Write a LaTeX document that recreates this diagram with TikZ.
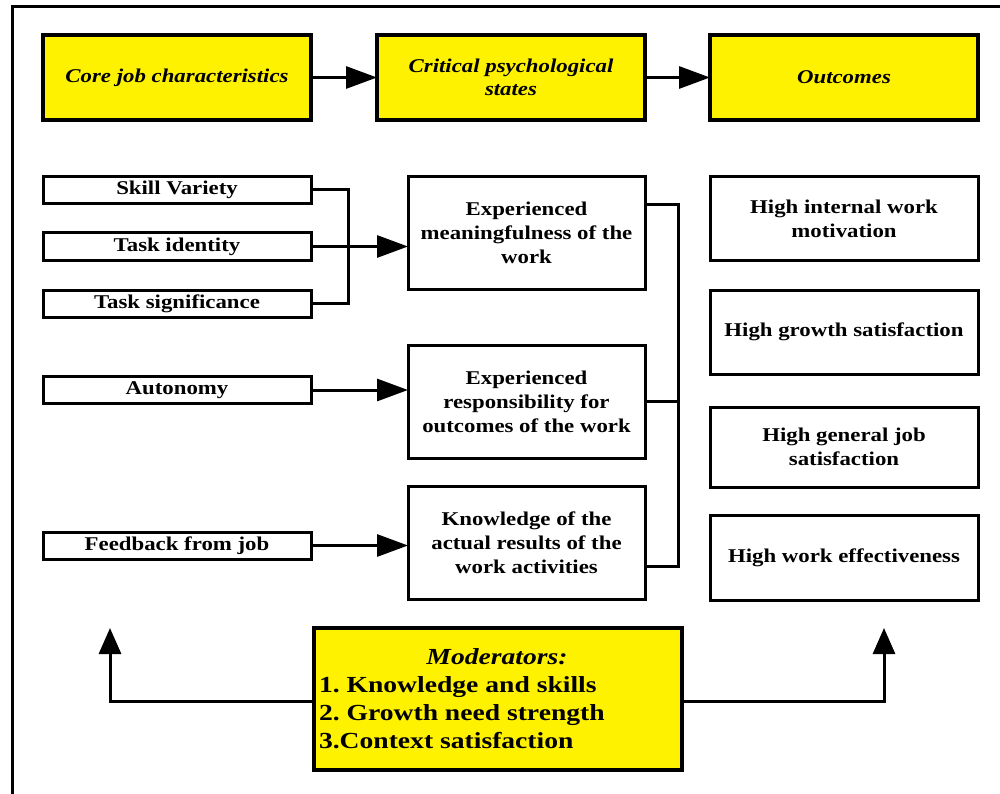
\documentclass[tikz,border=0pt]{standalone}
\usepackage{fontspec}
\setmainfont{Liberation Serif}[FakeStretch=1.17]
\newfontfamily\modfont{Liberation Serif}[FakeStretch=1.2]
\usetikzlibrary{arrows.meta}
\frenchspacing
\begin{document}
\begin{tikzpicture}[x=1pt,y=-1pt,
  every node/.style={inner sep=0pt,outer sep=0pt},
  frame/.style={line width=3pt,line cap=rect},
  headbox/.style={draw,line width=3.5pt,fill=yellow,minimum width=268pt,minimum height=85pt,
    font=\fontsize{19.5}{23}\selectfont\bfseries\itshape,align=center},
  smallbox/.style={draw,line width=3pt,minimum width=268pt,minimum height=27pt,
    font=\fontsize{19.5}{22}\selectfont\bfseries},
  midbox/.style={draw,line width=3pt,minimum width=237pt,minimum height=113pt,
    font=\fontsize{19.5}{24}\selectfont\bfseries,align=center},
  outbox/.style={draw,line width=3pt,minimum width=268pt,
    font=\fontsize{19.5}{24}\selectfont\bfseries,align=center},
  link/.style={line width=3pt},
  arr/.style={line width=3pt,-{Triangle[length=31pt,width=22pt]}},
  uparr/.style={line width=3pt,-{Triangle[length=26pt,width=22pt]}}]
\useasboundingbox (0,0) rectangle (1000,794);
% frame (open to the right and bottom)
\draw[frame] (12,800) -- (12,7) -- (1010,7);

% header row
\node[headbox] (core) at (177,77.5) {Core job characteristics};
\node[headbox] (crit) at (511,77.5) {Critical psychological\\states};
\node[headbox] (outc) at (844,77.5) {Outcomes};
\draw[arr] (core.east) -- (crit.west);
\draw[arr] (crit.east) -- (outc.west);

% core job characteristics
\node[smallbox] (sv) at (177,190) {Skill Variety};
\node[smallbox] (ti) at (177,246.5) {Task identity};
\node[smallbox] (ts) at (177,303.5) {Task significance};
\node[smallbox] (au) at (177,390) {Autonomy};
\node[smallbox] (fb) at (177,545.5) {Feedback from job};

% psychological states
\node[midbox] (mean) at (526.5,233) {Experienced\\meaningfulness of the\\work};
\node[midbox] (resp) at (526.5,402) {Experienced\\responsibility for\\outcomes of the work};
\node[midbox] (know) at (526.5,542.5) {Knowledge of the\\actual results of the\\work activities};

% outcomes
\node[outbox,minimum height=83pt] (o1) at (844,218.5) {High internal work\\motivation};
\node[outbox,minimum height=84pt] (o2) at (844,332) {High growth satisfaction};
\node[outbox,minimum height=80pt] (o3) at (844,447) {High general job\\satisfaction};
\node[outbox,minimum height=85pt] (o4) at (844,557.5) {High work effectiveness};

% bracket joining the first three characteristics
\coordinate (lb) at (348,0);
\draw[link] (sv.east) -- (sv.east -| lb) -- (ts.east -| lb) -- (ts.east);
\draw[arr] (ti.east) -- (ti.east -| mean.west);
\draw[arr] (au.east) -- (au.east -| resp.west);
\draw[arr] (fb.east) -- (fb.east -| know.west);

% bracket joining the three states
\coordinate (m1) at (645,205);
\coordinate (m2) at (645,401);
\coordinate (m3) at (645,566);
\coordinate (rb) at (678,0);
\draw[link] (m1) -- (m1 -| rb) -- (m3 -| rb) -- (m3);
\draw[link] (m2) -- (m2 -| rb);

% moderators
\node[draw,line width=3.5pt,fill=yellow,minimum width=368pt,minimum height=142pt] (mod) at (498,699) {};
\node[font=\modfont\fontsize{23}{28}\selectfont\bfseries\itshape] (modt) at (497,657) {Moderators:};
\node[font=\modfont\fontsize{23}{28}\selectfont\bfseries,align=left,anchor=north west] (modl) at (319,677)
  {1. Knowledge and skills\\2. Growth need strength\\3.Context satisfaction};
\coordinate (la) at (110,628);
\coordinate (ra) at (884,628);
\draw[uparr] (mod.west |- 0,701) -- (la |- 0,701) -- (la);
\draw[uparr] (mod.east |- 0,701) -- (ra |- 0,701) -- (ra);
\end{tikzpicture}
\end{document}
